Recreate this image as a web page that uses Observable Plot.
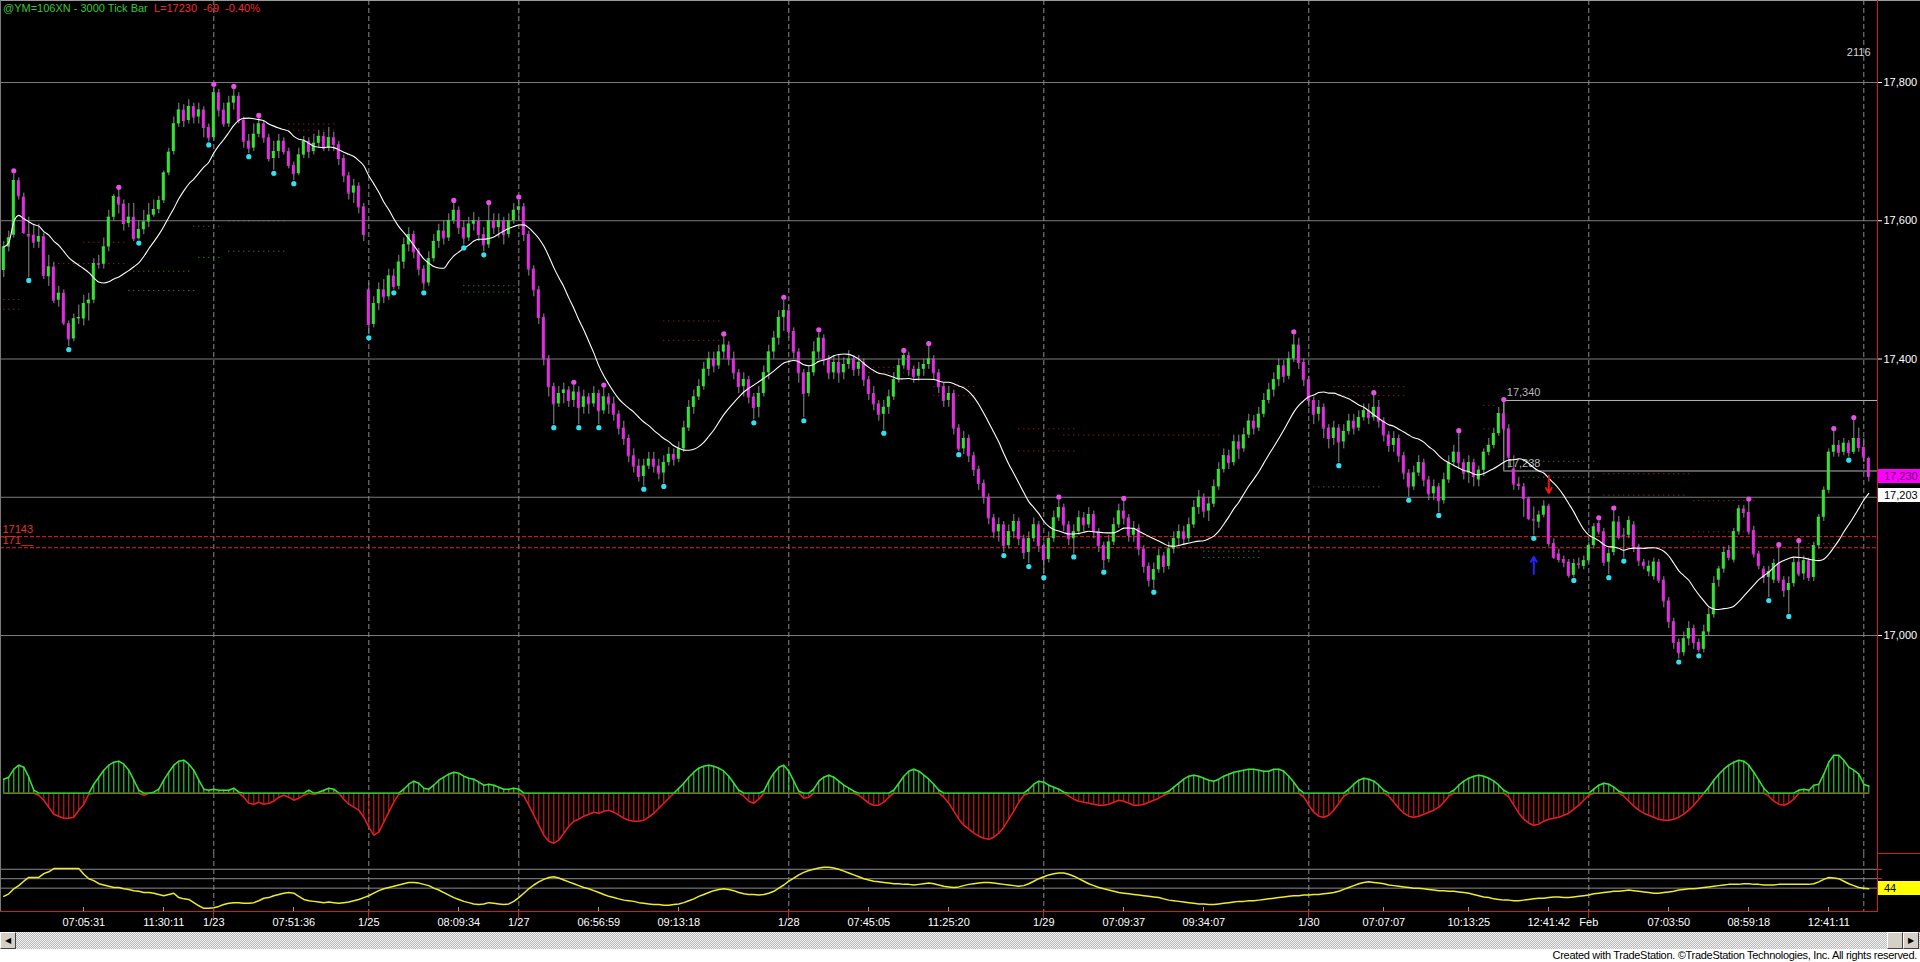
<!DOCTYPE html>
<html>
<head>
<meta charset="utf-8">
<title>@YM=106XN - 3000 Tick Bar</title>
<script src="https://cdn.jsdelivr.net/npm/d3@7"></script>
<script src="https://cdn.jsdelivr.net/npm/@observablehq/plot@0.6"></script>
<style>
html, body { margin:0; padding:0; background:#ffffff; overflow:hidden; }
#wrap { position:relative; width:1920px; height:962px; background:#000; overflow:hidden; font-family: Arial, "Liberation Sans", sans-serif; }
#wrap > svg { position:absolute; left:0; margin:0; }
#hdr { position:absolute; left:3px; top:2px; font-size:11px; line-height:13px; white-space:pre; }
#scroll { position:absolute; left:0; top:932px; width:1920px; height:17px; background-color:#dcdcdc; background-image: repeating-conic-gradient(#b9b9b9 0% 25%, #f2f2f2 0% 50%); background-size:2px 2px; }
.btn { position:absolute; top:0; width:14px; height:15px; background:#d4d0c8; border:1px solid; border-color:#fff #404040 #404040 #fff; font-size:8px; line-height:15px; text-align:center; color:#000; }
#footer { position:absolute; left:0; top:949px; width:1920px; height:13px; background:#fff; color:#000; font-size:11px; line-height:13px; text-align:right; }
#footer span { padding-right:3px; letter-spacing:-0.3px; }
</style>
</head>
<body>
<div id="wrap">
  <div id="scroll"><div class="btn" style="left:0">&#9664;</div><div class="btn" style="left:1887px"></div><div class="btn" style="left:1903px">&#9654;</div></div>
  <div id="footer"><span>Created with TradeStation. &copy;TradeStation Technologies, Inc. All rights reserved.</span></div>
</div>
<script>
// ---------------- DATA ----------------
const opens = [
17528,17562,17579,17658,17634,17580,17579,17569,17577,17519,
17533,17485,17495,17451,17429,17458,17458,17480,17485,17538,
17537,17562,17605,17634,17624,17596,17605,17574,17587,17598,
17608,17616,17629,17669,17700,17740,17760,17745,17765,17750,
17760,17735,17720,17785,17760,17740,17770,17780,17745,17715,
17705,17725,17740,17720,17690,17700,17715,17700,17680,17668,
17695,17715,17700,17712,17722,17705,17720,17710,17690,17665,
17640,17650,17620,17500,17450,17480,17500,17490,17520,17505,
17540,17565,17580,17555,17530,17510,17545,17570,17585,17575,
17600,17615,17590,17575,17595,17600,17580,17565,17600,17590,
17600,17580,17600,17615,17620,17580,17530,17500,17460,17400,
17360,17335,17350,17355,17340,17352,17330,17345,17335,17350,
17325,17345,17335,17320,17300,17285,17260,17245,17230,17245,
17255,17245,17235,17250,17262,17255,17270,17300,17330,17345,
17360,17385,17400,17390,17410,17420,17400,17380,17360,17370,
17345,17330,17350,17380,17410,17430,17460,17470,17440,17410,
17380,17350,17380,17410,17430,17400,17380,17395,17380,17392,
17400,17385,17395,17370,17350,17335,17320,17330,17345,17370,
17390,17405,17385,17375,17385,17392,17400,17380,17360,17340,
17350,17300,17270,17285,17260,17240,17220,17200,17170,17150,
17160,17130,17150,17165,17140,17120,17140,17160,17130,17110,
17140,17170,17185,17160,17140,17150,17170,17160,17175,17150,
17130,17110,17135,17160,17180,17170,17145,17155,17125,17100,
17080,17095,17115,17100,17125,17140,17150,17140,17160,17185,
17200,17180,17190,17215,17240,17260,17250,17280,17270,17290,
17310,17300,17320,17340,17355,17370,17390,17375,17400,17420,
17395,17370,17340,17320,17330,17300,17285,17300,17280,17295,
17310,17300,17315,17325,17315,17330,17310,17290,17275,17285,
17260,17235,17215,17235,17250,17225,17205,17215,17195,17225,
17250,17265,17250,17235,17250,17225,17239,17265,17275,17292,
17321,17299,17241,17219,17215,17198,17168,17164,17174,17187,
17133,17118,17110,17106,17087,17104,17100,17108,17130,17162,
17150,17106,17120,17164,17145,17145,17160,17128,17106,17092,
17085,17106,17080,17050,17020,16990,16975,16995,17010,16990,
16980,17005,17030,17080,17096,17123,17109,17150,17183,17178,
17152,17118,17096,17084,17080,17104,17080,17065,17075,17106,
17089,17108,17084,17130,17171,17210,17265,17275,17265,17278,
17265,17285,17272,17256];
const highs = [
17570,17585,17668,17662,17640,17605,17595,17595,17582,17550,
17540,17505,17500,17455,17465,17478,17492,17495,17545,17550,
17575,17615,17638,17644,17630,17625,17625,17600,17615,17625,
17630,17635,17672,17705,17750,17770,17768,17775,17770,17770,
17765,17740,17793,17790,17770,17780,17790,17785,17750,17725,
17740,17748,17745,17725,17715,17725,17720,17705,17685,17705,
17722,17720,17725,17730,17728,17735,17728,17715,17695,17670,
17660,17655,17625,17510,17490,17510,17515,17530,17530,17550,
17575,17590,17585,17560,17535,17555,17580,17595,17600,17610,
17625,17620,17600,17605,17612,17605,17590,17622,17610,17610,
17605,17610,17625,17630,17625,17585,17535,17505,17465,17405,
17365,17360,17365,17360,17362,17360,17355,17350,17360,17355,
17358,17350,17345,17325,17310,17290,17270,17255,17255,17265,
17265,17255,17260,17272,17270,17280,17310,17340,17355,17370,
17395,17410,17410,17420,17432,17425,17410,17385,17380,17375,
17350,17360,17390,17420,17440,17470,17485,17478,17445,17415,
17385,17390,17425,17438,17435,17405,17405,17405,17402,17412,
17405,17405,17400,17375,17360,17340,17340,17355,17380,17400,
17408,17410,17390,17395,17400,17418,17405,17385,17365,17360,
17355,17305,17295,17290,17265,17245,17225,17205,17175,17170,
17165,17160,17175,17170,17145,17150,17170,17165,17135,17150,
17180,17196,17190,17165,17160,17180,17178,17185,17180,17155,
17135,17145,17170,17190,17194,17175,17165,17160,17130,17105,
17105,17125,17120,17135,17150,17160,17158,17170,17195,17210,
17205,17200,17225,17250,17270,17268,17290,17290,17300,17320,
17318,17330,17350,17365,17380,17400,17398,17410,17435,17430,
17400,17375,17345,17340,17335,17305,17310,17305,17305,17320,
17320,17325,17335,17335,17347,17340,17315,17295,17295,17290,
17265,17240,17245,17260,17255,17230,17225,17220,17235,17260,
17275,17292,17255,17260,17255,17245,17270,17285,17300,17330,
17337,17305,17260,17229,17220,17200,17186,17180,17195,17190,
17140,17125,17115,17110,17110,17112,17115,17135,17162,17166,
17155,17125,17180,17172,17155,17172,17165,17132,17110,17108,
17112,17110,17085,17055,17025,16995,17005,17020,17015,16995,
17015,17040,17085,17100,17128,17130,17155,17188,17188,17193,
17158,17122,17100,17100,17110,17127,17085,17085,17112,17133,
17115,17112,17135,17175,17215,17270,17295,17282,17285,17282,
17311,17300,17285,17258];
const lows = [
17518,17555,17575,17630,17580,17518,17560,17560,17515,17505,
17480,17475,17448,17418,17425,17450,17448,17455,17480,17530,
17530,17555,17600,17610,17585,17590,17570,17572,17580,17590,
17605,17610,17625,17665,17695,17735,17735,17740,17740,17740,
17720,17714,17715,17750,17735,17735,17760,17740,17705,17697,
17700,17720,17712,17685,17673,17690,17695,17675,17658,17665,
17690,17690,17695,17705,17700,17700,17700,17680,17655,17630,
17625,17610,17570,17435,17445,17470,17480,17485,17500,17500,
17530,17555,17545,17520,17500,17505,17540,17560,17565,17570,
17595,17580,17565,17570,17585,17570,17555,17560,17580,17575,
17565,17575,17595,17600,17570,17520,17490,17450,17390,17345,
17305,17330,17335,17330,17330,17305,17320,17320,17330,17305,
17320,17320,17310,17290,17275,17250,17235,17222,17216,17240,
17235,17225,17220,17245,17245,17250,17265,17295,17320,17340,
17355,17375,17380,17385,17400,17390,17370,17350,17345,17335,
17312,17315,17345,17370,17400,17420,17440,17430,17400,17365,
17315,17345,17375,17400,17390,17370,17370,17365,17370,17385,
17375,17375,17360,17340,17325,17310,17297,17320,17340,17365,
17385,17375,17365,17368,17375,17385,17370,17350,17330,17330,
17290,17266,17262,17250,17230,17210,17190,17160,17140,17135,
17120,17125,17140,17130,17110,17104,17135,17120,17088,17105,
17135,17165,17150,17130,17118,17145,17150,17155,17140,17120,
17096,17105,17130,17155,17160,17135,17135,17115,17090,17070,
17067,17090,17090,17095,17118,17130,17130,17135,17155,17175,
17170,17165,17185,17210,17235,17240,17245,17255,17265,17285,
17290,17295,17315,17335,17345,17360,17365,17370,17395,17385,
17360,17330,17305,17310,17285,17270,17275,17250,17270,17290,
17290,17295,17310,17305,17310,17300,17280,17265,17265,17250,
17225,17200,17210,17230,17215,17195,17195,17178,17190,17220,
17245,17240,17225,17220,17215,17215,17230,17260,17270,17288,
17295,17242,17210,17210,17171,17166,17145,17155,17170,17128,
17110,17105,17098,17083,17084,17096,17095,17105,17125,17145,
17100,17088,17115,17138,17112,17140,17120,17100,17095,17085,
17080,17075,17040,17010,16980,16966,16970,16985,16980,16975,
16975,17000,17025,17070,17090,17108,17105,17145,17170,17145,
17112,17095,17075,17055,17075,17075,17055,17032,17070,17085,
17080,17078,17078,17125,17165,17205,17258,17258,17260,17258,
17262,17265,17250,17222];
const closes = [
17562,17575,17658,17636,17583,17578,17569,17577,17521,17533,
17485,17495,17452,17429,17458,17460,17480,17485,17538,17537,
17562,17605,17635,17624,17596,17605,17574,17587,17598,17608,
17616,17629,17669,17699,17740,17760,17745,17765,17750,17760,
17735,17720,17785,17760,17740,17770,17780,17745,17715,17705,
17725,17740,17720,17690,17700,17715,17700,17680,17668,17695,
17715,17700,17712,17722,17705,17720,17710,17690,17665,17640,
17650,17620,17580,17450,17480,17500,17490,17520,17505,17540,
17565,17580,17555,17530,17510,17545,17570,17585,17575,17600,
17615,17590,17575,17595,17600,17580,17565,17600,17590,17600,
17580,17600,17615,17620,17580,17530,17500,17460,17400,17360,
17335,17350,17355,17340,17352,17330,17345,17335,17350,17325,
17345,17335,17320,17300,17285,17260,17245,17230,17245,17255,
17245,17235,17250,17262,17255,17270,17300,17330,17345,17360,
17385,17400,17390,17410,17420,17400,17380,17360,17370,17345,
17330,17350,17380,17410,17430,17460,17470,17440,17410,17380,
17350,17380,17410,17430,17400,17380,17395,17380,17392,17400,
17385,17395,17370,17350,17335,17320,17330,17345,17370,17390,
17405,17385,17375,17385,17392,17400,17380,17360,17340,17350,
17300,17270,17285,17260,17240,17220,17200,17170,17150,17160,
17130,17150,17165,17140,17120,17140,17160,17130,17110,17140,
17170,17185,17160,17140,17150,17170,17160,17175,17150,17130,
17110,17135,17160,17180,17170,17145,17155,17125,17100,17080,
17095,17115,17100,17125,17140,17150,17140,17160,17185,17200,
17180,17190,17215,17240,17260,17250,17280,17270,17290,17310,
17300,17320,17340,17355,17370,17390,17375,17400,17420,17395,
17370,17340,17320,17330,17300,17285,17300,17280,17295,17310,
17300,17315,17325,17315,17330,17310,17290,17275,17285,17260,
17235,17215,17235,17250,17225,17205,17215,17195,17225,17250,
17265,17250,17235,17250,17230,17239,17265,17275,17292,17321,
17299,17258,17219,17217,17198,17169,17167,17174,17187,17133,
17113,17110,17106,17087,17104,17103,17108,17130,17157,17150,
17106,17118,17164,17142,17144,17166,17128,17108,17101,17100,
17106,17080,17050,17020,16990,16975,16995,17010,16990,16980,
17005,17030,17075,17096,17120,17113,17150,17183,17178,17150,
17118,17101,17084,17092,17104,17080,17065,17075,17105,17089,
17108,17084,17130,17171,17210,17265,17275,17265,17278,17265,
17285,17272,17258,17230];

// swing-high (magenta) and swing-low (cyan) markers, by bar
const pivotHighBars = [2,23,42,46,51,90,97,103,114,120,144,156,163,180,185,211,224,258,274,291,300,319,322,349,355,359,366,370];
const pivotLowBars = [5,13,27,41,49,54,58,73,78,84,92,96,110,115,119,128,132,150,160,176,191,200,205,208,214,220,230,267,281,287,306,314,321,324,335,339,353,357,369];

// momentum oscillator (histogram) per bar
const osc = [
14,16,24,28,26,16,3,-2,-7,-14,
-21,-23,-25,-25,-24,-17,-11,-1,9,16,
23,28,31,32,29,23,13,3,-2,0,
1,4,13,21,28,32,33,29,23,13,
4,3,4,3,3,3,5,1,-4,-10,
-11,-9,-11,-10,-8,-4,-2,-4,-7,-5,
-2,3,-1,1,3,5,4,0,-6,-11,
-14,-17,-24,-34,-42,-39,-29,-19,-9,-1,
4,9,12,10,5,4,8,13,16,19,
21,20,17,15,14,11,8,9,8,6,
4,4,5,4,-3,-12,-22,-32,-42,-48,
-50,-47,-40,-33,-28,-26,-23,-21,-19,-20,
-18,-17,-19,-22,-25,-27,-28,-28,-27,-24,
-20,-15,-10,-5,0,5,10,16,21,25,
27,28,27,25,22,17,10,3,-3,-8,
-10,-6,2,12,20,26,28,22,12,2,
-5,-4,4,12,16,18,16,12,8,5,
2,-2,-6,-10,-12,-12,-9,-4,3,10,
17,22,24,22,18,14,9,3,-4,-10,
-18,-26,-32,-36,-40,-43,-45,-46,-44,-40,
-34,-26,-18,-9,-2,4,9,12,11,8,
6,4,1,-3,-6,-8,-9,-10,-11,-12,
-12,-11,-9,-7,-8,-10,-12,-12,-11,-9,
-7,-5,-2,2,6,10,14,17,18,17,
15,13,12,14,17,19,21,22,23,24,
24,23,22,22,24,24,22,17,11,4,
-4,-12,-19,-23,-24,-22,-17,-10,-3,4,
9,13,15,14,12,8,3,-3,-9,-15,
-20,-23,-24,-23,-21,-19,-17,-14,-9,-3,
3,8,12,15,17,18,17,15,12,8,
3,-4,-12,-20,-26,-30,-32,-31,-28,-26,
-25,-24,-22,-20,-16,-12,-7,-2,4,8,
10,9,6,2,-3,-8,-13,-17,-20,-22,
-24,-26,-27,-27,-26,-24,-21,-17,-12,-6,
0,6,13,19,24,28,31,33,32,28,
21,13,5,-3,-8,-11,-12,-10,-6,3,
4,3,8,9,19,31,38,38,33,26,
23,19,9,7];

// lower (yellow) indicator per bar
const lowerInd = [
32,36,44,49,56,62,62,62,68,71,
76,76,76,76,76,76,67,60,57,52,
50,48,46,46,44,43,41,40,38,38,
37,35,33,35,37,30,28,27,22,17,
13,13,14,16,19,21,22,22,21,21,
22,25,29,30,33,35,37,38,37,32,
27,25,24,23,22,23,22,21,22,23,
25,27,30,33,37,41,44,46,48,50,
52,54,54,53,51,49,45,42,38,34,
30,27,24,22,20,19,20,22,21,20,
19,20,24,30,37,44,50,55,59,62,
63,61,58,55,52,49,46,44,41,38,
35,32,30,28,26,25,24,22,21,20,
19,19,18,18,19,20,22,25,28,32,
35,38,41,43,44,43,41,38,36,35,
35,34,35,37,40,45,50,56,61,66,
70,73,75,77,78,78,77,75,72,69,
66,63,60,58,56,55,54,53,52,52,
51,51,50,51,52,53,52,50,48,47,
46,47,49,51,52,53,54,54,53,52,
51,50,49,48,49,52,56,60,63,66,
68,69,69,67,64,60,56,52,49,46,
44,42,40,38,37,36,35,34,33,32,
31,30,28,26,25,24,23,22,21,20,
20,19,19,20,21,22,23,24,24,25,
25,26,27,28,29,30,31,32,33,33,
34,34,35,35,36,37,38,40,43,46,
49,52,54,55,54,53,52,50,49,48,
47,46,45,45,44,43,42,41,41,40,
40,39,38,37,35,33,31,30,28,27,
26,26,25,25,26,27,28,29,29,30,
31,31,30,30,31,32,33,34,36,37,
38,39,40,40,41,42,41,40,39,38,
37,37,38,39,40,42,43,44,44,45,
46,47,48,49,50,51,51,51,52,52,
51,51,50,50,50,51,51,51,51,51,
51,51,52,55,59,62,61,60,56,52,
49,46,45,44];
const lowerLevels = [75, 60, 45];

// dotted support / resistance segments
const srStart = [0,0,9,16,25,26,38,39,45,45,57,57,92,92,132,132,171,171,186,186,203,203,212,240,240,262,266,266,296,296,304,304,320,320,338,338,361,362];
const srEnd   = [4,4,25,25,39,38,44,44,57,57,67,67,104,104,144,144,185,185,195,195,215,215,244,252,252,276,281,281,299,298,319,319,338,337,351,351,367,367];
const srPrice = [17486,17472,17538,17569,17499,17527,17592,17547,17600,17556,17740,17731,17506,17497,17455,17427,17388,17380,17360,17347,17299,17267,17290,17122,17113,17215,17360,17347,17333,17299,17252,17229,17234,17203,17195,17150,17133,17111];
const srKind  = ["r","r","r","r","s","s","s","s","s","s","r","r","s","s","r","r","r","r","r","r","r","r","r","s","s","s","r","r","r","r","s","s","r","r","r","r","r","r"];

const priceTicks = [17000, 17200, 17400, 17600, 17800];
const alertLevels = [17143, 17127];
const alertLabels = ["17143", "171__"];
const rangeStartBar = 300;
const rangeLevels = [17340, 17238];
const sellArrowBars = [309];
const buyArrowBars = [306];
const avgMarker = 17203;
const barCountLabel = "2116";

// session dates (dashed verticals) and time axis
const gridBars = [42, 73, 103, 157, 208, 261, 317, 372];
const axisBars = [16,32,42,58,73,91,103,119,135,157,173,189,208,224,240,261,276,293,309,317,333,349,365];
const axisLabels = ["07:05:31","11:30:11","1/23","07:51:36","1/25","08:09:34","1/27","06:56:59","09:13:18","1/28","07:45:05","11:25:20","1/29","07:09:37","09:34:07","1/30","07:07:07","10:13:25","12:41:42","Feb","07:03:50","08:59:18","12:41:11"];
const dateAxisBars = [42, 73, 103, 157, 208, 261, 317];

// ---------------- CHART ----------------
const FONT = "Arial, 'Liberation Sans', sans-serif";
const UP = "#34e234", DOWN = "#e22ce2", WICK = "#8e8e8e";
const HI_DOT = "#e94fe9", LO_DOT = "#33e0ef";
const GRID = "#7d7d7d", DASH = "#8a8a8a";
const X = {type: "linear", domain: [-0.66, 374.74], range: [0, 1877], label: null};
const Y_PRICE = {domain: [16840.9, 17918.6], range: [745, 0]};
const Y_OSC = {domain: [-60.3, 47.7], range: [108, 0]};
const Y_LOW = {domain: [0, 100], range: [63, 0]};
const baseStyle = {background: "transparent", color: "white", fontFamily: FONT, fontSize: "11px", overflow: "visible"};

const bars = closes.map((c, i) => ({i, open: opens[i], high: highs[i], low: lows[i], close: c}));
const fmt = d3.format(",");
const candleColor = d => d.close >= d.open ? UP : DOWN;
const srIdx = d3.range(srPrice.length);

const p1 = Plot.plot({
  width: 1920, height: 745, marginTop: 0, marginLeft: 0, marginBottom: 0, marginRight: 43,
  style: baseStyle,
  x: {...X, axis: null},
  y: {...Y_PRICE, label: null},
  color: {type: "identity"},
  marks: [
    Plot.ruleY(priceTicks, {stroke: GRID}),
    Plot.ruleX(gridBars, {stroke: DASH, strokeDasharray: "5,3"}),
    Plot.ruleY(srIdx, {y: i => srPrice[i], x1: i => srStart[i], x2: i => srEnd[i],
      stroke: i => srKind[i] === "r" ? "#c42a2a" : "#2fb52f", strokeDasharray: "1,4"}),
    Plot.ruleY(alertLevels, {stroke: "#e02424", strokeDasharray: "4,2"}),
    Plot.text(alertLevels, {y: d => d, text: (d, i) => alertLabels[i], frameAnchor: "left", dx: 2, dy: -7, textAnchor: "start", fill: "#e23434", fontSize: 11}),
    Plot.ruleY(rangeLevels, {x1: () => rangeStartBar, x2: () => X.domain[1], stroke: "#b7b7b7"}),
    Plot.ruleX([rangeStartBar], {y1: () => rangeLevels[1], y2: () => rangeLevels[0], stroke: "#b7b7b7"}),
    Plot.text(rangeLevels, {x: () => rangeStartBar, y: d => d, text: d => fmt(d), dx: 3, dy: -8, textAnchor: "start", fill: "#b7b7b7", fontSize: 11}),
    Plot.ruleX(bars, {x: "i", y1: "low", y2: "high", stroke: WICK}),
    Plot.rect(bars, {x1: d => d.i - 0.3, x2: d => d.i + 0.3, y1: "open", y2: "close", fill: candleColor}),
    Plot.ruleY(bars, {y: "close", x1: d => d.i - 0.3, x2: d => d.i + 0.3, stroke: candleColor}),
    Plot.line(bars, Plot.windowY({k: 16, anchor: "end"}, {x: "i", y: "close", stroke: "white", strokeWidth: 1.1, curve: "monotone-x"})),
    Plot.dot(pivotHighBars, {x: d => d, y: d => highs[d], r: 2.6, fill: HI_DOT, dy: -3}),
    Plot.dot(pivotLowBars, {x: d => d, y: d => lows[d], r: 2.6, fill: LO_DOT, dy: 3}),
    Plot.arrow(sellArrowBars, {x1: d => d, x2: d => d, y1: d => highs[d] + 41, y2: d => highs[d] + 16, stroke: "#e81818", strokeWidth: 2, headLength: 6}),
    Plot.arrow(buyArrowBars, {x1: d => d, x2: d => d, y1: d => lows[d] - 56, y2: d => lows[d] - 31, stroke: "#2424ff", strokeWidth: 2, headLength: 6}),
    Plot.text([barCountLabel], {frameAnchor: "top-right", dx: -7, dy: 52, lineAnchor: "middle", fill: "#d6d6d6", fontSize: 11}),
    Plot.axisY({anchor: "right", ticks: priceTicks, tickFormat: fmt, tickSize: 4, tickPadding: 2, fontSize: 11, color: "white", label: null})
  ]
});

const oscIdx = osc.map((d, i) => i);
const p2 = Plot.plot({
  width: 1920, height: 108, marginTop: 0, marginLeft: 0, marginBottom: 0, marginRight: 43,
  style: baseStyle,
  x: {...X, axis: null},
  y: {...Y_OSC, axis: null},
  color: {type: "identity"},
  marks: [
    Plot.ruleX(gridBars, {stroke: DASH, strokeDasharray: "5,3"}),
    Plot.ruleX(oscIdx, {x: i => i, y1: () => 0, y2: i => osc[i], stroke: i => osc[i] >= 0 ? "#3be43b" : "#e42020"}),
    Plot.line(oscIdx, {x: i => i, y: i => Math.min(osc[i], 0), stroke: "#e42020"}),
    Plot.line(oscIdx, {x: i => i, y: i => Math.max(osc[i], 0), stroke: "#3be43b"}),
    Plot.ruleY([0], {x1: () => 0, x2: () => osc.length - 1, stroke: "#22b522"})
  ]
});

const axisLabelByBar = new Map(axisBars.map((b, i) => [b, axisLabels[i]]));
const p3 = Plot.plot({
  width: 1920, height: 77, marginTop: 0, marginLeft: 0, marginBottom: 19, marginRight: 43,
  style: baseStyle,
  x: {...X},
  y: {...Y_LOW, axis: null},
  color: {type: "identity"},
  marks: [
    Plot.ruleX(gridBars, {stroke: DASH, strokeDasharray: "5,3"}),
    Plot.ruleY(lowerLevels, {stroke: "#8a8a8a"}),
    Plot.line(lowerInd, {x: (d, i) => i, y: d => d, stroke: "#eded22"}),
    Plot.axisX({anchor: "bottom", ticks: axisBars, tickFormat: d => axisLabelByBar.get(d), tickSize: 0, tickPadding: 7, fontSize: 11, color: "white", label: null})
  ]
});

const wrap = document.getElementById("wrap");
const scroll = document.getElementById("scroll");
[[p1, 0], [p2, 745], [p3, 853]].forEach(([svg, top]) => {
  svg.style.position = "absolute";
  svg.style.left = "0px";
  svg.style.top = top + "px";
  wrap.insertBefore(svg, scroll);
});

// ---------- chrome overlay (frame lines, price flags) ----------
const xs = d3.scaleLinear(X.domain, X.range);
const yP = d3.scaleLinear(Y_PRICE.domain, Y_PRICE.range);
const yL = v => 853 + d3.scaleLinear(Y_LOW.domain, Y_LOW.range)(v);
const ov = d3.create("svg").attr("width", 1920).attr("height", 932)
  .style("position", "absolute").style("left", "0px").style("top", "0px")
  .style("font-family", FONT).style("font-size", "11px");
ov.append("line").attr("x1", 0).attr("x2", 1920).attr("y1", 0.5).attr("y2", 0.5).attr("stroke", "#9c9c9c");
ov.append("line").attr("x1", 0.5).attr("x2", 0.5).attr("y1", 0).attr("y2", 911).attr("stroke", "#7a7a7a");
ov.append("line").attr("x1", 1877.5).attr("x2", 1877.5).attr("y1", 0).attr("y2", 912).attr("stroke", "#d21c1c");
ov.append("line").attr("x1", 0).attr("x2", 1877).attr("y1", 911.5).attr("y2", 911.5).attr("stroke", "#d21c1c");
ov.append("line").attr("x1", 1877).attr("x2", 1920).attr("y1", 853.5).attr("y2", 853.5).attr("stroke", "#d21c1c");
lowerLevels.slice(0, 2).forEach(v => {
  const y = Math.round(yL(v)) + 0.5;
  ov.append("line").attr("x1", 1878).attr("x2", 1882).attr("y1", y).attr("y2", y).attr("stroke", "#d21c1c");
});
axisBars.forEach(b => {
  const x = Math.round(xs(b)) + 0.5;
  const isDate = dateAxisBars.includes(b);
  ov.append("line").attr("x1", x).attr("x2", x)
    .attr("y1", isDate ? 912 : 907).attr("y2", isDate ? 918 : 911)
    .attr("stroke", isDate ? "#d21c1c" : "#9a9a9a");
});
function flag(y, bg, fg, txt) {
  ov.append("rect").attr("x", 1878).attr("y", Math.round(y) - 7).attr("width", 42).attr("height", 14).attr("fill", bg);
  ov.append("text").attr("x", 1884).attr("y", Math.round(y) + 4).attr("fill", fg).text(txt);
}
flag(yP(closes[closes.length - 1]), "#ff00ff", "#5e005e", fmt(closes[closes.length - 1]));
flag(yP(avgMarker), "#ffffff", "#000000", fmt(avgMarker));
flag(yL(lowerInd[lowerInd.length - 1]), "#ffff00", "#000000", String(lowerInd[lowerInd.length - 1]));
wrap.insertBefore(ov.node(), scroll);

// header
const hdr = document.createElement("div");
hdr.id = "hdr";
hdr.innerHTML = '<span style="color:#36c936">@YM=106XN - 3000 Tick Bar</span>  <span style="color:#f02c2c">L=17230  -69  -0.40%</span>';
wrap.insertBefore(hdr, scroll);
</script>
</body>
</html>
